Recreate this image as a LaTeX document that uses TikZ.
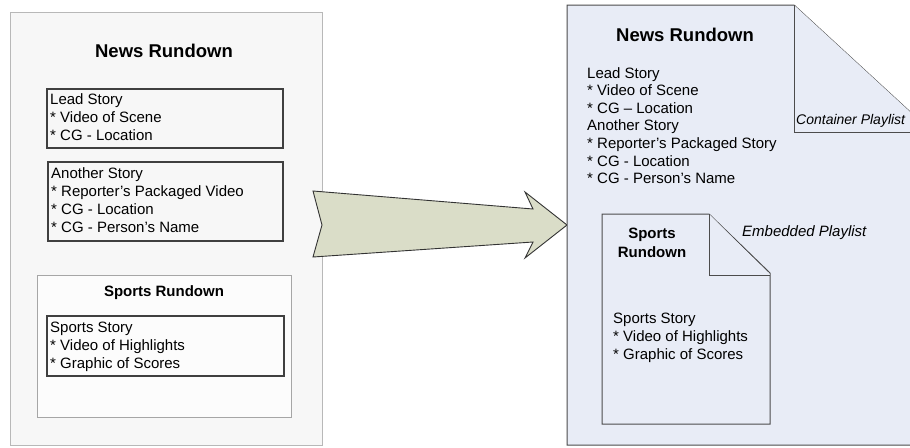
\documentclass[tikz,border=0pt]{standalone}
\usepackage{fontspec}
\setmainfont{Liberation Sans}
\usepackage{xcolor}
\usetikzlibrary{positioning}
\definecolor{docblue}{HTML}{E8ECF6}
\definecolor{arrowfill}{HTML}{DADDC8}

\begin{document}
\begin{tikzpicture}[
    x=1pt,y=-1pt,
    panel/.style={draw=black!28,fill=black!3,line width=.9pt},
    subpanel/.style={draw=black!35,fill=black!1,line width=.9pt},
    story/.style={draw=black!75,line width=1.2pt},
    doc/.style={draw=black!70,fill=docblue,line width=1pt,line join=miter},
    txt/.style={anchor=north west,inner sep=0pt,align=left,font=\fontsize{15}{18}\selectfont},
    rtxt/.style={txt,font=\fontsize{15}{17.6}\selectfont},
    head/.style={anchor=base,inner sep=0pt,align=center,font=\bfseries\fontsize{15}{19}\selectfont},
    title/.style={head,font=\bfseries\fontsize{18.5}{22}\selectfont},
    note/.style={anchor=base west,inner sep=0pt,font=\itshape\fontsize{15}{18}\selectfont}
  ]
    \useasboundingbox (0,0) rectangle (910,447);
    \fill[white] (0,0) rectangle (910,447);
    \draw[panel] (10,12) rectangle (322,445);
    \node[title] (newsL) at (164,57) {News Rundown};
    \draw[story] (47,89) rectangle (283,148);
    \node[txt] (leadL) at (50,93) {Lead Story\\* Video of Scene\\* CG - Location};
    \draw[story] (48,162) rectangle (283,241);
    \node[txt] (otherL) at (51,167) {Another Story\\* Reporter's Packaged Video\\* CG - Location\\* CG - Person's Name};
    \draw[subpanel] (37,275) rectangle (291,417);
    \node[head] (sportsL) at (164,296) {Sports Rundown};
    \draw[story] (47,316) rectangle (284,376);
    \node[txt] (sstoryL) at (50,322) {Sports Story\\* Video of Highlights\\* Graphic of Scores};
    \draw[line width=.9pt,black!80,fill=arrowfill,line join=miter]
      (313,191) -- (533,209) -- (525,192) -- (567,225) -- (525,258) -- (533,242) -- (313,257) -- (322,225) -- cycle;
    \begin{scope}
      \clip (0,0) rectangle (910,447);
      \draw[doc] (567,5) -- (794,5) -- (932,132) -- (932,445) -- (567,445) -- cycle;
      \draw[doc] (794,5) -- (794,132) -- (932,132);
    \end{scope}
    \node[title] (newsR) at (685,41) {News Rundown};
    \node[rtxt] (listR) at (587,67) {Lead Story\\* Video of Scene\\* CG -- Location\\Another Story\\* Reporter's Packaged Story\\* CG - Location\\* CG - Person's Name};
    \node[note,font=\itshape\fontsize{14}{17}\selectfont] (container) at (796,124) {Container Playlist};
    \draw[doc] (602,214) -- (709,214) -- (770,273) -- (770,424) -- (602,424) -- cycle;
    \draw[doc] (709,214) -- (709,275) -- (770,275);
    \node[head] (sportsR) at (652,257) {Sports\\Rundown};
    \node[note] (embedded) at (742,236) {Embedded Playlist};
    \node[txt] (sstoryR) at (613,313) {Sports Story\\* Video of Highlights\\* Graphic of Scores};
\end{tikzpicture}
\end{document}
